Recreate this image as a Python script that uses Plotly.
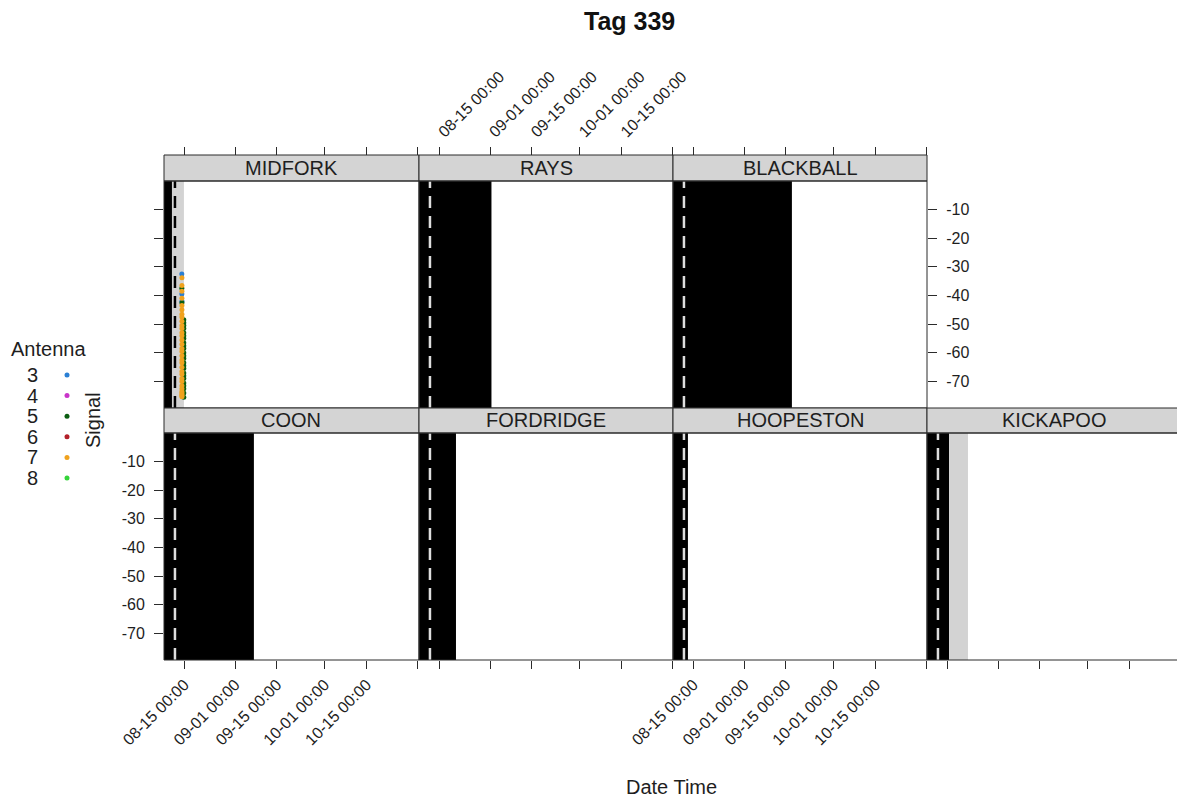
import plotly.graph_objects as go
import pandas as pd

# ---------------- data ----------------
sites = ["MIDFORK", "RAYS", "BLACKBALL", "COON", "FORDRIDGE", "HOOPESTON", "KICKAPOO"]

# periods drawn in black (e.g. receiver offline) per site
black_start = ["2019-08-08 05:00"] * 7
black_end = ["2019-08-10 21:00", "2019-09-01 11:00", "2019-09-17 00:00", "2019-09-07 07:00",
             "2019-08-20 14:00", "2019-08-13 05:00", "2019-08-15 14:00"]
# periods drawn in grey
grey_site = ["MIDFORK", "KICKAPOO"]
grey_start = ["2019-08-10 21:00", "2019-08-15 14:00"]
grey_end = ["2019-08-14 21:00", "2019-08-21 22:00"]
# release date (dashed line)
release_time = "2019-08-11 21:00"

antennas = [3, 4, 5, 6, 7, 8]
antenna_colors = ["#2a7fd4", "#c935c9", "#0b5e12", "#b3202a", "#f0a21e", "#35d43a"]

# detections at MIDFORK
det_time_a3 = ["2019-08-14 04:00", "2019-08-14 04:30", "2019-08-14 05:10"]
det_sig_a3 = [-32.5, -39.5, -42.0]
det_time_a5 = ["2019-08-14 04:20", "2019-08-14 05:00"] + ["2019-08-14 20:00"] * 24
det_sig_a5 = [-37.5, -42.5,
              -48.5, -49.5, -50.5, -51.5, -53.0, -54.0, -55.0, -56.5, -57.5, -58.5,
              -60.0, -61.0, -62.0, -63.5, -64.5, -65.5, -67.0, -68.0, -69.0, -70.5,
              -71.5, -72.5, -74.0, -75.5]
det_time_a7 = ["2019-08-14 05:00"] * 32
det_sig_a7 = [-33.8, -36.5, -38.5, -41.0, -43.5, -45.0, -46.5, -47.5, -49.0, -50.5,
              -51.5, -53.0, -54.0, -55.5, -57.0, -58.5, -59.5, -61.0, -62.5, -63.5,
              -65.0, -66.5, -67.5, -69.0, -70.0, -71.5, -72.5, -73.5, -74.0, -74.5,
              -75.0, -75.3]

x_tick_vals = ["2019-08-15", "2019-09-01", "2019-09-15", "2019-10-01", "2019-10-15", "2019-11-01"]
x_tick_text = ["08-15 00:00", "09-01 00:00", "09-15 00:00", "10-01 00:00", "10-15 00:00", ""]
y_tick_vals = [-10, -20, -30, -40, -50, -60, -70]
y_tick_text = ["-10", "-20", "-30", "-40", "-50", "-60", "-70"]
y_range = [-79.25, -0.05]

# ---------------- layout helpers ----------------
W, H = 1177, 798
def px(x):
    return x / W
def py(y):
    return 1 - y / H
def sfx(n):
    return "" if n == 1 else str(n)

FONT = "Liberation Sans, Arial, sans-serif"
LINE = "#2b2b2b"
STRIP = "#d4d4d4"
TXT = "#1e1e1e"

col_edges = [164, 419, 673, 927, 1177]
placement = {"MIDFORK": (0, 0), "RAYS": (1, 0), "BLACKBALL": (2, 0),
             "COON": (0, 1), "FORDRIDGE": (1, 1), "HOOPESTON": (2, 1), "KICKAPOO": (3, 1)}
rows = {0: dict(strip=(155, 181), plot=(181, 408)),
        1: dict(strip=(408, 433), plot=(433, 660))}

x_start = pd.Timestamp("2019-08-08 05:00")
full_days = 85.0
px_per_panel = 254.0

fig = go.Figure()
layout = dict(width=W, height=H, margin=dict(l=0, r=0, t=0, b=0), autosize=False,
              plot_bgcolor="white", paper_bgcolor="white", showlegend=False,
              font=dict(family=FONT, color=TXT))
shapes = []
annotations = []

for i, site in enumerate(sites):
    n = i + 1
    s = sfx(n)
    col, row = placement[site]
    x0p, x1p = col_edges[col], col_edges[col + 1]
    st0, st1 = rows[row]["strip"]
    p0, p1 = rows[row]["plot"]
    width_px = x1p - x0p
    x_end = x_start + pd.Timedelta(days=full_days * width_px / px_per_panel)

    xa = dict(domain=[px(x0p), px(x1p)], type="date", range=[x_start, x_end],
              showgrid=False, zeroline=False, showline=False, automargin=False,
              tickmode="array", tickvals=x_tick_vals, ticktext=x_tick_text,
              ticks="outside", ticklen=8, tickcolor=LINE, tickwidth=1,
              tickangle=-45, tickfont=dict(size=16, family=FONT, color=TXT))
    if row == 0:
        xa.update(anchor="free", position=py(st0), side="top",
                  showticklabels=(site == "RAYS"))
    else:
        xa.update(anchor=f"y{s}", side="bottom",
                  showticklabels=(site in ("COON", "HOOPESTON")))
    ya = dict(domain=[py(p1), py(p0)], range=y_range, anchor=f"x{s}",
              showgrid=False, zeroline=False, showline=False, automargin=False,
              tickmode="array", tickvals=y_tick_vals, ticktext=y_tick_text,
              ticklen=9, tickcolor=LINE, tickwidth=1, ticklabelstandoff=6,
              tickfont=dict(size=16, family=FONT, color=TXT))
    if site == "MIDFORK":
        ya.update(side="left", ticks="outside", showticklabels=False)
    elif site == "COON":
        ya.update(side="left", ticks="outside", showticklabels=True)
    elif site == "BLACKBALL":
        ya.update(side="right", ticks="outside", showticklabels=True)
    else:
        ya.update(ticks="", showticklabels=False)
    layout[f"xaxis{s}"] = xa
    layout[f"yaxis{s}"] = ya

    fig.add_trace(go.Scatter(x=[], y=[], xaxis=f"x{s}", yaxis=f"y{s}", showlegend=False))

    shapes.append(dict(type="rect", xref=f"x{s}", yref=f"y{s} domain",
                       x0=black_start[i], x1=black_end[i], y0=0, y1=1,
                       fillcolor="black", line=dict(width=0), layer="below"))
    for gs, g0, g1 in zip(grey_site, grey_start, grey_end):
        if gs == site:
            shapes.append(dict(type="rect", xref=f"x{s}", yref=f"y{s} domain",
                               x0=g0, x1=g1, y0=0, y1=1,
                               fillcolor="#d3d3d3", line=dict(width=0), layer="below"))
    dash_col = "black" if site == "MIDFORK" else "#dedede"
    shapes.append(dict(type="line", xref=f"x{s}", yref=f"y{s} domain",
                       x0=release_time, x1=release_time, y0=0, y1=1,
                       line=dict(color=dash_col, width=2.5, dash="12px,8px"), layer="below"))

    right_edge = x1p if col < 3 else x1p + 10
    shapes.append(dict(type="rect", xref="paper", yref="paper",
                       x0=px(x0p), x1=px(right_edge), y0=py(st1), y1=py(st0),
                       fillcolor=STRIP, line=dict(color=LINE, width=1), layer="above"))
    shapes.append(dict(type="rect", xref="paper", yref="paper",
                       x0=px(x0p), x1=px(right_edge), y0=py(p1), y1=py(p0),
                       fillcolor="rgba(0,0,0,0)", line=dict(color=LINE, width=1), layer="above"))
    annotations.append(dict(xref="paper", yref="paper",
                            x=px((x0p + x0p + 254) / 2), y=py((st0 + st1) / 2),
                            text=site, showarrow=False, xanchor="center", yanchor="middle",
                            font=dict(size=20, family=FONT, color=TXT)))

# detections (MIDFORK panel = first axes)
det = {3: (det_time_a3, det_sig_a3), 5: (det_time_a5, det_sig_a5), 7: (det_time_a7, det_sig_a7)}
for a, c in zip(antennas, antenna_colors):
    if a in det:
        t, sg = det[a]
        fig.add_trace(go.Scatter(x=t, y=sg, mode="markers", xaxis="x", yaxis="y",
                                 marker=dict(color=c, size=5, line=dict(width=0)),
                                 showlegend=False, hoverinfo="skip"))

# legend key on auxiliary hidden axes
leg_top, leg_step = 375, 20.6
layout["xaxis8"] = dict(domain=[px(57), px(77)], range=[-1, 1], visible=False, anchor="y8")
layout["yaxis8"] = dict(domain=[py(leg_top + 5.5 * leg_step), py(leg_top - 0.5 * leg_step)],
                        range=[8.5, 2.5], visible=False, anchor="x8")
fig.add_trace(go.Scatter(x=[0] * len(antennas), y=antennas, mode="markers",
                         xaxis="x8", yaxis="y8",
                         marker=dict(color=antenna_colors, size=5, line=dict(width=0)),
                         showlegend=False, hoverinfo="skip"))
for k, a in enumerate(antennas):
    annotations.append(dict(xref="paper", yref="paper", x=px(32), y=py(leg_top + leg_step * k),
                            text=str(a), showarrow=False, xanchor="center", yanchor="middle",
                            font=dict(size=20, family=FONT, color=TXT)))
annotations.append(dict(xref="paper", yref="paper", x=px(48), y=py(349), text="Antenna",
                        showarrow=False, xanchor="center", yanchor="middle",
                        font=dict(size=20, family=FONT, color=TXT)))

annotations.append(dict(xref="paper", yref="paper", x=px(629), y=py(21), text="<b>Tag 339</b>",
                        showarrow=False, xanchor="center", yanchor="middle",
                        font=dict(size=25, family=FONT, color="#111")))
annotations.append(dict(xref="paper", yref="paper", x=px(671), y=py(787), text="Date Time",
                        showarrow=False, xanchor="center", yanchor="middle",
                        font=dict(size=20, family=FONT, color=TXT)))
annotations.append(dict(xref="paper", yref="paper", x=px(93), y=py(420), text="Signal",
                        textangle=-90, showarrow=False, xanchor="center", yanchor="middle",
                        font=dict(size=20, family=FONT, color=TXT)))

layout["shapes"] = shapes
layout["annotations"] = annotations
fig.update_layout(**layout)
fig.write_html("out.html", config={"displayModeBar": False},
               post_script="document.body.style.margin='0px';document.body.style.overflow='hidden';")
